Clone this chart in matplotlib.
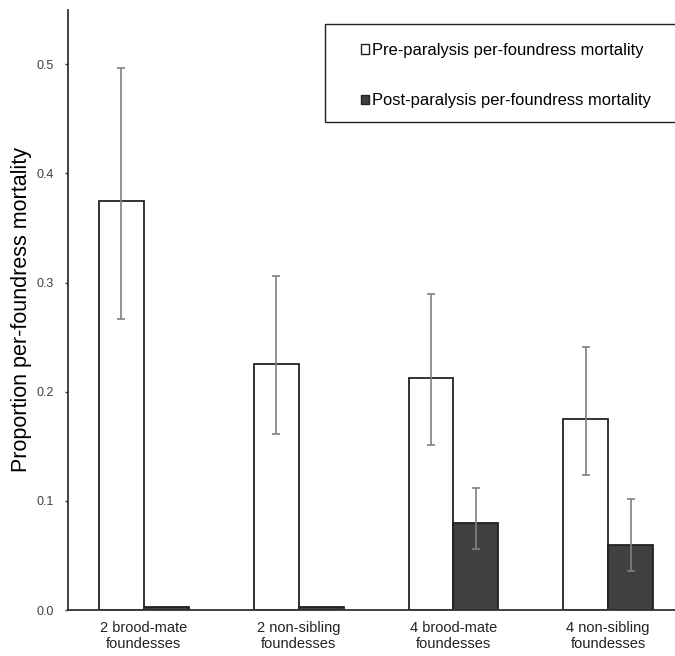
import numpy as np
import matplotlib.pyplot as plt
from matplotlib.patches import Patch, Rectangle

plt.rcParams["font.family"] = ["Liberation Sans", "DejaVu Sans"]

groups = ["2 brood-mate\nfoundesses", "2 non-sibling\nfoundesses",
          "4 brood-mate\nfoundesses", "4 non-sibling\nfoundesses"]
pre = [0.375, 0.225, 0.2125, 0.175]
pre_lo = [0.267, 0.161, 0.151, 0.124]
pre_hi = [0.497, 0.306, 0.290, 0.241]
post = [0.003, 0.003, 0.080, 0.060]
post_lo = [0.003, 0.003, 0.056, 0.036]
post_hi = [0.003, 0.003, 0.112, 0.102]

pre = np.array(pre)
post = np.array(post)
pre_err = [pre - np.array(pre_lo), np.array(pre_hi) - pre]
post_err = [post - np.array(post_lo), np.array(post_hi) - post]

fig = plt.figure(figsize=(6.75, 6.56), dpi=100)
ax = fig.add_axes([0.1007, 0.0701, 0.899, 0.915])

x = np.arange(len(groups))
w = 0.29
ax.bar(x - w/2, pre, w, color="white", edgecolor="#222222", linewidth=1.3)
ax.bar(x + w/2, post, w, color="#404040", edgecolor="#222222", linewidth=1.3)
err_kw = dict(fmt="none", ecolor="#808080", elinewidth=1.2, capsize=3, capthick=1.2)
ax.errorbar(x - w/2, pre, yerr=pre_err, **err_kw)
ax.errorbar(x[2:] + w/2, post[2:], yerr=[post_err[0][2:], post_err[1][2:]], **err_kw)

ax.set_xlim(-0.49, 3.43)
ax.set_ylim(0, 0.55)
ax.set_yticks([0, 0.1, 0.2, 0.3, 0.4, 0.5])
ax.set_yticklabels(["0.0", "0.1", "0.2", "0.3", "0.4", "0.5"])
ax.set_xticks(x)
ax.set_xticklabels(groups, fontsize=10.5, color="#222222")
ax.tick_params(axis="y", length=2.5, width=1, color="#333333",
               labelsize=9, labelcolor="#404040", pad=8)
ax.tick_params(axis="x", length=0, pad=8)
for s in ["top", "right"]:
    ax.spines[s].set_visible(False)
for s in ["left", "bottom"]:
    ax.spines[s].set_linewidth(1.3)
    ax.spines[s].set_color("#333333")
ax.set_ylabel("Proportion per-foundress mortality", fontsize=15.5, labelpad=3)

# legend frame runs off the right edge of the figure
ax.add_patch(Rectangle((0.4234, 0.813), 0.6, 0.164, transform=ax.transAxes,
                       facecolor="white", edgecolor="#222222", linewidth=1,
                       clip_on=False, zorder=4))
handles = [Patch(facecolor="white", edgecolor="#222222", linewidth=1),
           Patch(facecolor="#404040", edgecolor="#222222", linewidth=1)]
leg = ax.legend(handles, ["Pre-paralysis per-foundress mortality",
                          "Post-paralysis per-foundress mortality"],
                loc="upper left", bbox_to_anchor=(0.4827, 0.945), fontsize=11.9,
                handlelength=0.48, handleheight=0.48, handletextpad=0.2,
                labelspacing=2.15, borderpad=0, borderaxespad=0, frameon=False)
leg.set_zorder(5)

fig.savefig("out.png", dpi=100)
